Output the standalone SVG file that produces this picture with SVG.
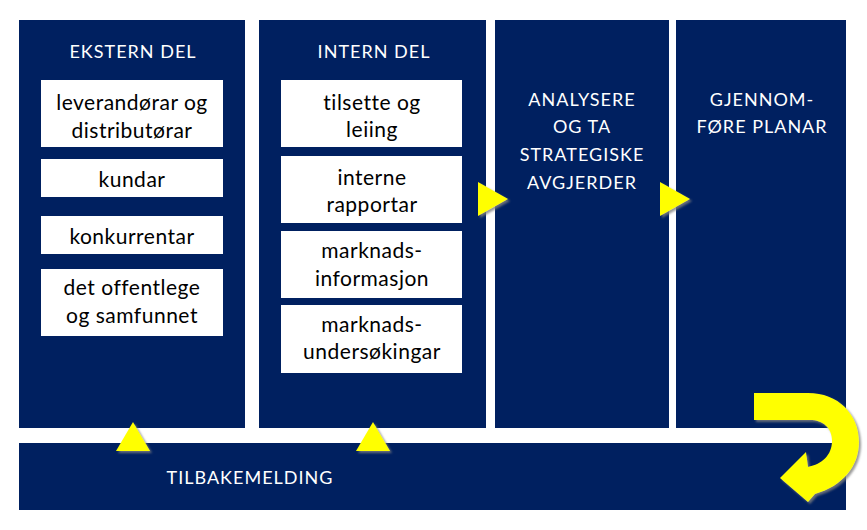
<svg xmlns="http://www.w3.org/2000/svg" width="867" height="530" viewBox="0 0 867 530">
<style>
.col{fill:#002060}
.box{fill:#ffffff}
.hd{font-family:Lato,"Liberation Sans",sans-serif;font-size:18px;letter-spacing:1px;fill:#ffffff;text-anchor:middle}
.tx{font-family:Lato,"Liberation Sans",sans-serif;font-size:21px;letter-spacing:0.5px;fill:#000000;text-anchor:middle}
.tri{fill:#ffff00;filter:url(#sh)}
</style>
<defs>
<filter id="sh" x="-30%" y="-30%" width="160%" height="160%">
<feDropShadow dx="2" dy="2" stdDeviation="1" flood-color="#808080" flood-opacity="0.8"/>
</filter>
</defs>
<rect width="867" height="530" fill="#ffffff"/>
<g id="ekstern">
<rect class="col" x="19" y="20" width="226" height="408"/>
<text class="hd" x="133" y="58">EKSTERN DEL</text>
<rect class="box" x="41" y="80" width="182" height="67"/>
<text class="tx" x="132" y="110">leverandørar og</text>
<text class="tx" x="132" y="138">distributørar</text>
<rect class="box" x="41" y="159" width="182" height="38"/>
<text class="tx" x="132" y="187">kundar</text>
<rect class="box" x="41" y="216" width="182" height="38"/>
<text class="tx" x="132" y="244">konkurrentar</text>
<rect class="box" x="41" y="269" width="182" height="67"/>
<text class="tx" x="132" y="295">det offentlege</text>
<text class="tx" x="132" y="323">og samfunnet</text>
</g>
<g id="intern">
<rect class="col" x="259" y="20" width="227" height="408"/>
<text class="hd" x="374" y="58">INTERN DEL</text>
<rect class="box" x="281" y="80" width="181" height="67"/>
<text class="tx" x="372" y="110">tilsette og</text>
<text class="tx" x="372" y="137">leiing</text>
<rect class="box" x="281" y="156" width="181" height="67"/>
<text class="tx" x="372" y="185">interne</text>
<text class="tx" x="372" y="212">rapportar</text>
<rect class="box" x="281" y="231" width="181" height="67"/>
<text class="tx" x="372" y="258">marknads-</text>
<text class="tx" x="372" y="286">informasjon</text>
<rect class="box" x="281" y="305" width="181" height="68"/>
<text class="tx" x="372" y="332">marknads-</text>
<text class="tx" x="372" y="359">undersøkingar</text>
</g>
<g id="analysere">
<rect class="col" x="495" y="20" width="174" height="408"/>
<text class="hd" x="582" y="106">ANALYSERE</text>
<text class="hd" x="582" y="133">OG TA</text>
<text class="hd" x="582" y="161">STRATEGISKE</text>
<text class="hd" x="582" y="189">AVGJERDER</text>
</g>
<g id="gjennomfore">
<rect class="col" x="676" y="20" width="170" height="408"/>
<text class="hd" x="762" y="106">GJENNOM-</text>
<text class="hd" x="762" y="133">FØRE PLANAR</text>
</g>
<g id="tilbakemelding">
<rect class="col" x="19" y="443" width="827" height="67"/>
<text class="hd" x="250" y="484">TILBAKEMELDING</text>
</g>
<g id="connectors">
<polygon class="tri" points="478,182 508,199 478,216"/>
<polygon class="tri" points="660,182 690,199 660,216"/>
<polygon class="tri" points="116,451 133,422 150,451"/>
<polygon class="tri" points="356,451 373,422 390,451"/>
<path class="tri" d="M754,393 L808,393 C838,393 859,414 859,442 C859,466 843,486 815,494 L808,502 L780,478 L806,452 L808,467 C822,464 832,455 832,441 C832,428 823,420 810,420 L754,420 Z"/>
</g>
</svg>
